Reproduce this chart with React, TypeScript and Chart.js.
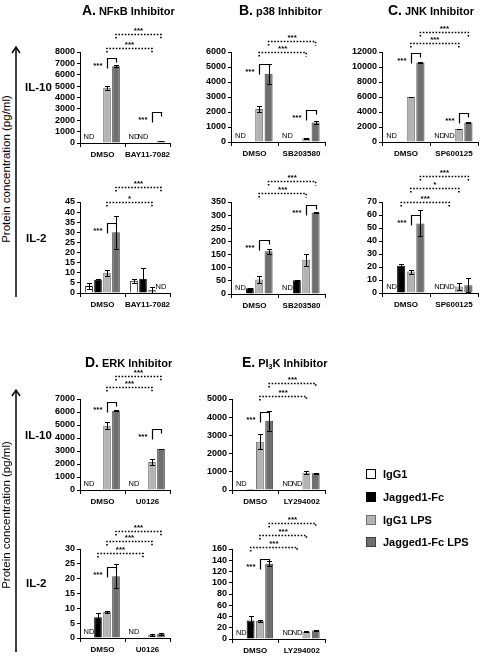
import React, { useEffect, useRef } from "react";
import { Chart, registerables } from "chart.js";

Chart.register(...registerables);

const FONT = "'Liberation Sans', Arial, Helvetica, sans-serif";

// ---------- series ----------
const SERIES_NAMES = ["IgG1", "Jagged1-Fc", "IgG1 LPS", "Jagged1-Fc LPS"];
const SERIES_FILLS = ["#ffffff", "#000000", "#b3b3b3", "#6f6f6f"];
const SERIES_EDGES = ["#000000", "#000000", "#707070", "#3f3f3f"];

// ---------- categories ----------
const CATS_A = ["DMSO", "BAY11-7082"];
const CATS_B = ["DMSO", "SB203580"];
const CATS_C = ["DMSO", "SP600125"];
const CATS_D = ["DMSO", "U0126"];
const CATS_E = ["DMSO", "LY294002"];

// ---------- y axes: [min, max, step] ----------
const A_IL10_Y = [0, 8000, 1000];
const A_IL2_Y = [0, 45, 5];
const B_IL10_Y = [0, 6000, 1000];
const B_IL2_Y = [0, 350, 50];
const C_IL10_Y = [0, 12000, 2000];
const C_IL2_Y = [0, 70, 10];
const D_IL10_Y = [0, 7000, 1000];
const D_IL2_Y = [0, 30, 5];
const E_IL10_Y = [0, 5000, 1000];
const E_IL2_Y = [0, 160, 20];

// ---------- means per series [cat0, cat1] (null = ND) ----------
const A_IL10_MEANS = [[null, null], [null, null], [4850, 30], [6750, 170]];
const A_IL10_ERRS = [[0, 0], [0, 0], [150, 0], [70, 20]];
const A_IL2_MEANS = [[3.5, 6], [6.5, 7], [10, 1.5], [30, null]];
const A_IL2_ERRS = [[1.5, 1], [0.6, 5.5], [1.5, 1.5], [8, 0]];

const B_IL10_MEANS = [[null, null], [30, 30], [2200, 250], [4550, 1300]];
const B_IL10_ERRS = [[0, 0], [0, 0], [200, 30], [650, 80]];
const B_IL2_MEANS = [[null, null], [22, 52], [55, 130], [163, 310]];
const B_IL2_ERRS = [[0, 0], [2, 2], [15, 22], [10, 3]];

const C_IL10_MEANS = [[null, null], [20, null], [6000, 1750], [10600, 2600]];
const C_IL10_ERRS = [[0, 0], [0, 0], [50, 50], [100, 50]];
const C_IL2_MEANS = [[null, null], [21, null], [16.5, 5], [53.5, 6]];
const C_IL2_ERRS = [[0, 0], [1.5, 0], [1.5, 2.5], [10, 5.5]];

const D_IL10_MEANS = [[null, null], [null, null], [4950, 2150], [6100, 3150]];
const D_IL10_ERRS = [[0, 0], [0, 0], [250, 200], [60, 30]];
const D_IL2_MEANS = [[null, null], [7, null], [8.8, 1.0], [20.8, 1.4]];
const D_IL2_ERRS = [[0, 0], [1.5, 0], [0.3, 0.2], [4, 0.3]];

const E_IL10_MEANS = [[null, null], [60, null], [2650, 950], [3800, 920]];
const E_IL10_ERRS = [[0, 0], [0, 0], [400, 80], [550, 40]];
const E_IL2_MEANS = [[null, null], [33, null], [32, 13], [134, 15]];
const E_IL2_ERRS = [[0, 0], [8, 0], [2, 1], [4, 1.5]];

// ---------- ND labels: [category, series] ----------
const A_IL10_ND = [[0, 0], [1, 0], [1, 1]];
const A_IL2_ND = [[1, 3]];
const B_IL10_ND = [[0, 0], [1, 0]];
const B_IL2_ND = [[0, 0], [1, 0]];
const C_IL10_ND = [[0, 0], [1, 0], [1, 1]];
const C_IL2_ND = [[0, 0], [1, 0], [1, 1]];
const D_IL10_ND = [[0, 0], [1, 0]];
const D_IL2_ND = [[0, 0], [1, 0]];
const E_IL10_ND = [[0, 0], [1, 0], [1, 1]];
const E_IL2_ND = [[0, 0], [1, 0], [1, 1]];

// ---------- solid brackets (IgG1 LPS vs Jagged1-Fc LPS): [category, top value] ----------
const A_IL10_SOLID = [[0, 7470], [1, 2725]];
const A_IL2_SOLID = [[0, 34.6]];
const B_IL10_SOLID = [[0, 5200], [1, 2130]];
const B_IL2_SOLID = [[0, 205], [1, 338]];
const C_IL10_SOLID = [[0, 11870], [1, 3870]];
const C_IL2_SOLID = [[0, 60]];
const D_IL10_SOLID = [[0, 6770], [1, 4690]];
const D_IL2_SOLID = [[0, 23.9]];
const E_IL10_SOLID = [[0, 4290]];
const E_IL2_SOLID = [[0, 142]];

// ---------- dotted brackets (DMSO vs inhibitor): [series, level value, label] ----------
const A_IL10_DOTTED = [[2, 8350, "***"], [3, 9580, "***"]];
const A_IL2_DOTTED = [[2, 45, "*"], [3, 52.4, "***"]];
const B_IL10_DOTTED = [[2, 6000, "***"], [3, 6730, "***"]];
const B_IL2_DOTTED = [[2, 384, "***"], [3, 430, "***"]];
const C_IL10_DOTTED = [[2, 13200, "***"], [3, 14670, "***"]];
const C_IL2_DOTTED = [[1, 70, "***"], [2, 80.8, "*"], [3, 90, "***"]];
const D_IL10_DOTTED = [[2, 7920, "***"], [3, 8770, "***"]];
const D_IL2_DOTTED = [[1, 28.6, "***"], [2, 32.7, "***"], [3, 36.1, "***"]];
const E_IL10_DOTTED = [[2, 5160, "***"], [3, 5880, "***"]];
const E_IL2_DOTTED = [[1, 163.6, "***"], [2, 185, "***"], [3, 206, "***"]];

// ---------- layout (plot area: left, top, right, bottom) ----------
const Y_AXIS_W = 60;
const X_AXIS_H = 20;
const PAD_TOP = 50;
const PAD_RIGHT = 8;

const PANELS = [
  { cats: CATS_A, y: A_IL10_Y, means: A_IL10_MEANS, errs: A_IL10_ERRS, nd: A_IL10_ND, solid: A_IL10_SOLID, dotted: A_IL10_DOTTED, area: [80, 52, 170, 143] },
  { cats: CATS_A, y: A_IL2_Y, means: A_IL2_MEANS, errs: A_IL2_ERRS, nd: A_IL2_ND, solid: A_IL2_SOLID, dotted: A_IL2_DOTTED, area: [80, 202, 170, 293] },
  { cats: CATS_B, y: B_IL10_Y, means: B_IL10_MEANS, errs: B_IL10_ERRS, nd: B_IL10_ND, solid: B_IL10_SOLID, dotted: B_IL10_DOTTED, area: [231, 52, 325, 142] },
  { cats: CATS_B, y: B_IL2_Y, means: B_IL2_MEANS, errs: B_IL2_ERRS, nd: B_IL2_ND, solid: B_IL2_SOLID, dotted: B_IL2_DOTTED, area: [231, 202, 325, 294] },
  { cats: CATS_C, y: C_IL10_Y, means: C_IL10_MEANS, errs: C_IL10_ERRS, nd: C_IL10_ND, solid: C_IL10_SOLID, dotted: C_IL10_DOTTED, area: [382, 52, 478, 142] },
  { cats: CATS_C, y: C_IL2_Y, means: C_IL2_MEANS, errs: C_IL2_ERRS, nd: C_IL2_ND, solid: C_IL2_SOLID, dotted: C_IL2_DOTTED, area: [382, 202, 478, 293] },
  { cats: CATS_D, y: D_IL10_Y, means: D_IL10_MEANS, errs: D_IL10_ERRS, nd: D_IL10_ND, solid: D_IL10_SOLID, dotted: D_IL10_DOTTED, area: [80, 399, 170, 490] },
  { cats: CATS_D, y: D_IL2_Y, means: D_IL2_MEANS, errs: D_IL2_ERRS, nd: D_IL2_ND, solid: D_IL2_SOLID, dotted: D_IL2_DOTTED, area: [80, 549, 170, 638] },
  { cats: CATS_E, y: E_IL10_Y, means: E_IL10_MEANS, errs: E_IL10_ERRS, nd: E_IL10_ND, solid: E_IL10_SOLID, dotted: E_IL10_DOTTED, area: [232, 399, 325, 490] },
  { cats: CATS_E, y: E_IL2_Y, means: E_IL2_MEANS, errs: E_IL2_ERRS, nd: E_IL2_ND, solid: E_IL2_SOLID, dotted: E_IL2_DOTTED, area: [232, 549, 325, 639] },
];

function drawAnnotations(chart: any, p: any) {
  const ctx = chart.ctx as CanvasRenderingContext2D;
  const ys = chart.scales.y;
  const xOf = (s: number, c: number) => {
    const el = chart.getDatasetMeta(s).data[c];
    return el ? el.x : NaN;
  };
  ctx.save();
  ctx.strokeStyle = "#000";
  ctx.fillStyle = "#000";

  // error bars
  ctx.lineWidth = 1;
  p.means.forEach((vals: any[], s: number) => {
    vals.forEach((v: any, c: number) => {
      const e = p.errs[s][c];
      if (v === null || !e) return;
      const x = Math.round(xOf(s, c)) + 0.5;
      const yT = Math.round(ys.getPixelForValue(v + e)) + 0.5;
      const yB = Math.round(ys.getPixelForValue(Math.max(0, v - e))) + 0.5;
      ctx.beginPath();
      ctx.moveTo(x, yB);
      ctx.lineTo(x, yT);
      ctx.moveTo(x - 2.5, yT);
      ctx.lineTo(x + 2.5, yT);
      ctx.moveTo(x - 2.5, yB);
      ctx.lineTo(x + 2.5, yB);
      ctx.stroke();
    });
  });

  // ND labels
  const y0 = ys.getPixelForValue(0);
  ctx.font = `7.5px ${FONT}`;
  ctx.textAlign = "center";
  ctx.textBaseline = "alphabetic";
  p.nd.forEach(([c, s]: number[]) => {
    ctx.fillText("ND", xOf(s, c), y0 - 4);
  });

  // solid brackets
  ctx.lineWidth = 1.2;
  ctx.font = `bold 8px ${FONT}`;
  p.solid.forEach(([c, top]: number[]) => {
    const xa = Math.round(xOf(2, c)) + 0.5;
    const xb = Math.round(xOf(3, c)) + 0.5;
    const yt = Math.round(ys.getPixelForValue(top)) + 0.5;
    ctx.beginPath();
    ctx.moveTo(xa, yt + 10);
    ctx.lineTo(xa, yt);
    ctx.lineTo(xb, yt);
    ctx.lineTo(xb, yt + 4);
    ctx.stroke();
    ctx.textAlign = "right";
    ctx.fillText("***", xa - 5, yt + 9);
  });

  // dotted brackets
  ctx.lineWidth = 1.6;
  ctx.setLineDash([1.6, 1.6]);
  p.dotted.forEach(([s, lvl, lab]: any[]) => {
    const xa = xOf(s, 0);
    const xb = xOf(s, 1);
    const yl = Math.round(ys.getPixelForValue(lvl)) + 0.5;
    ctx.beginPath();
    ctx.moveTo(xa, yl + 4);
    ctx.lineTo(xa, yl);
    ctx.lineTo(xb, yl);
    ctx.lineTo(xb, yl + 4);
    ctx.stroke();
    ctx.textAlign = "center";
    ctx.fillText(lab, (xa + xb) / 2, yl - 2);
  });
  ctx.setLineDash([]);
  ctx.restore();
}

function Panel({ p }: { p: any }) {
  const ref = useRef<HTMLCanvasElement | null>(null);
  const [L, T, R, B] = p.area;
  const left = L - Y_AXIS_W;
  const top = T - PAD_TOP;
  const width = R - L + Y_AXIS_W + PAD_RIGHT;
  const height = B - T + PAD_TOP + X_AXIS_H;

  useEffect(() => {
    if (!ref.current) return;
    const chart = new Chart(ref.current, {
      type: "bar",
      data: {
        labels: p.cats,
        datasets: p.means.map((vals: any[], s: number) => ({
          label: SERIES_NAMES[s],
          data: vals,
          backgroundColor: SERIES_FILLS[s],
          borderColor: SERIES_EDGES[s],
          borderWidth: 1,
          categoryPercentage: 0.8,
          barPercentage: 0.85,
        })),
      },
      options: {
        responsive: false,
        animation: false,
        events: [],
        layout: { padding: { top: PAD_TOP, right: PAD_RIGHT, left: 0, bottom: 0 } },
        plugins: { legend: { display: false }, tooltip: { enabled: false }, title: { display: false } },
        scales: {
          x: {
            type: "category",
            offset: true,
            grid: { display: true, drawOnChartArea: false, color: "#000", tickLength: 4, offset: true },
            border: { color: "#000", width: 1 },
            ticks: { color: "#000", font: { family: FONT, size: 8, weight: "bold" }, padding: 3, maxRotation: 0, autoSkip: false },
            afterFit: (axis: any) => { axis.height = X_AXIS_H; },
          },
          y: {
            min: p.y[0],
            max: p.y[1],
            grid: { display: true, drawOnChartArea: false, color: "#000", tickLength: 3 },
            border: { color: "#000", width: 1 },
            ticks: {
              stepSize: p.y[2],
              autoSkip: false,
              color: "#000",
              font: { family: FONT, size: 9, weight: "bold" },
              padding: 2,
              callback: (v: any) => String(v),
            },
            afterFit: (axis: any) => { axis.width = Y_AXIS_W; },
          },
        },
      },
      plugins: [{ id: "annot", afterDatasetsDraw: (c: any) => drawAnnotations(c, p) }],
    } as any);
    return () => chart.destroy();
  }, []);

  return (
    <canvas
      ref={ref}
      width={width}
      height={height}
      style={{ position: "absolute", left, top, width, height }}
    />
  );
}

const TITLES = [
  { letter: "A.", text: "NFκB Inhibitor", x: 82, y: 10 },
  { letter: "B.", text: "p38 Inhibitor", x: 239, y: 10 },
  { letter: "C.", text: "JNK Inhibitor", x: 388, y: 10 },
  { letter: "D.", text: "ERK Inhibitor", x: 85, y: 362 },
  { letter: "E.", text: "PI3K Inhibitor", x: 242, y: 362 },
];

const ROW_LABELS = [
  { text: "IL-10", x: 25, y: 87 },
  { text: "IL-2", x: 26, y: 238 },
  { text: "IL-10", x: 25, y: 435 },
  { text: "IL-2", x: 26, y: 583 },
];

const LEGEND_Y = [474, 497, 520, 542];

function Title({ t }: { t: any }) {
  const body =
    t.text === "PI3K Inhibitor" ? (
      <span style={{ fontSize: 11 }}>
        PI<sub style={{ fontSize: 7, verticalAlign: "-2px" }}>3</sub>K Inhibitor
      </span>
    ) : (
      <span style={{ fontSize: 11 }}>{t.text}</span>
    );
  return (
    <div
      style={{
        position: "absolute",
        left: t.x,
        top: t.y - 8,
        height: 16,
        lineHeight: "16px",
        whiteSpace: "nowrap",
        fontFamily: FONT,
        fontWeight: "bold",
        color: "#000",
      }}
    >
      <span style={{ fontSize: 14 }}>{t.letter}</span>
      <span style={{ fontSize: 10.5 }}>&nbsp;</span>
      {body}
    </div>
  );
}

function SideLabel({ cy, top, bottom }: { cy: number; top: number; bottom: number }) {
  return (
    <>
      <div
        style={{
          position: "absolute",
          left: 6 - 100,
          top: cy - 7,
          width: 200,
          height: 14,
          lineHeight: "14px",
          textAlign: "center",
          transform: "rotate(-90deg)",
          fontFamily: FONT,
          fontSize: 11.5,
          color: "#000",
          whiteSpace: "nowrap",
        }}
      >
        Protein concentration (pg/ml)
      </div>
      <svg
        style={{ position: "absolute", left: 0, top: 0 }}
        width={40}
        height={657}
      >
        <line x1={16} y1={top} x2={16} y2={bottom} stroke="#000" strokeWidth={1.5} />
        <polyline points={`${12},${top + 6} ${16},${top} ${20},${top + 6}`} fill="none" stroke="#000" strokeWidth={1.5} />
      </svg>
    </>
  );
}

export default function App() {
  return (
    <div
      style={{
        position: "absolute",
        left: 0,
        top: 0,
        width: 485,
        height: 657,
        overflow: "hidden",
        background: "#fff",
      }}
    >
      {PANELS.map((p, i) => (
        <Panel key={i} p={p} />
      ))}
      {TITLES.map((t, i) => (
        <Title key={i} t={t} />
      ))}
      {ROW_LABELS.map((r, i) => (
        <div
          key={i}
          style={{
            position: "absolute",
            left: r.x,
            top: r.y - 8,
            height: 16,
            lineHeight: "16px",
            fontFamily: FONT,
            fontWeight: "bold",
            fontSize: 11.5,
            color: "#000",
            whiteSpace: "nowrap",
          }}
        >
          {r.text}
        </div>
      ))}
      <SideLabel cy={169} top={47} bottom={297} />
      <SideLabel cy={515} top={390} bottom={652} />
      {SERIES_NAMES.map((name, i) => (
        <React.Fragment key={i}>
          <div
            style={{
              position: "absolute",
              left: 366,
              top: LEGEND_Y[i] - 5,
              width: 8,
              height: 8,
              background: SERIES_FILLS[i],
              border: `1px solid ${i < 2 ? "#000" : SERIES_EDGES[i]}`,
            }}
          />
          <div
            style={{
              position: "absolute",
              left: 383,
              top: LEGEND_Y[i] - 8,
              height: 16,
              lineHeight: "16px",
              fontFamily: FONT,
              fontWeight: "bold",
              fontSize: 11,
              color: "#000",
              whiteSpace: "nowrap",
            }}
          >
            {name}
          </div>
        </React.Fragment>
      ))}
    </div>
  );
}
